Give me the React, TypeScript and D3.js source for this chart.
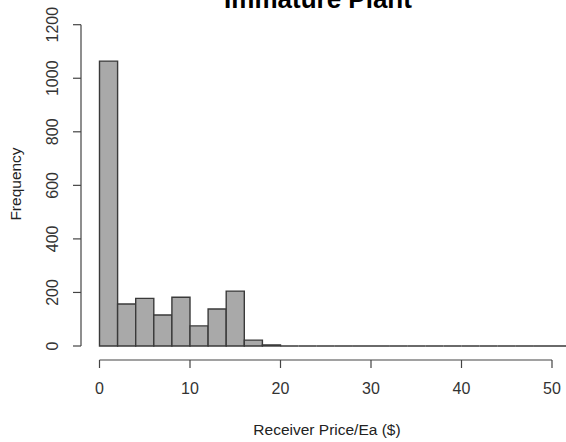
import React from "react";
import * as d3 from "d3";

// Histogram bins (width 2) and their counts
const binStarts: number[] = [0, 2, 4, 6, 8, 10, 12, 14, 16, 18, 20, 22, 24, 26, 28, 30, 32, 34, 36, 38, 40, 42, 44, 46, 48, 50, 52, 54];
const counts: number[] = [1064, 157, 178, 116, 182, 75, 138, 205, 22, 4, 0, 0, 0, 0, 0, 0, 0, 0, 0, 0, 0, 0, 0, 0, 0, 0, 1, 0];
const binWidth = 2;

const xTicks: number[] = [0, 10, 20, 30, 40, 50];
const yTicks: number[] = [0, 200, 400, 600, 800, 1000, 1200];

const title = "Immature Plant";
const xLabel = "Receiver Price/Ea ($)";
const yLabel = "Frequency";

const W = 566;
const H = 442;

export default function App() {
  const x = d3.scaleLinear().domain([0, 50]).range([99.5, 552]);
  const y = d3.scaleLinear().domain([0, 1200]).range([346, 24.7]);

  const axisColor = "#444";
  const font = "'Liberation Sans', Arial, sans-serif";
  const yAxisX = 81;
  const xAxisY = 360;
  const tick = 8;

  // Each bin is drawn as a closed path so empty bins still show their outline
  const barPath = (b: number, c: number) => {
    const p = d3.path();
    p.moveTo(x(b), y(0));
    p.lineTo(x(b), y(c));
    p.lineTo(x(b + binWidth), y(c));
    p.lineTo(x(b + binWidth), y(0));
    p.closePath();
    return p.toString();
  };

  return (
    <svg
      width={W}
      height={H}
      style={{ position: "absolute", left: 0, top: 0, background: "#fff" }}
      fontFamily={font}
    >
      <text x={318} y={8} textAnchor="middle" fontSize={26} fontWeight="bold" fill="#000">
        {title}
      </text>

      {/* bars */}
      <g>
        {binStarts.map((b, i) => (
          <path
            key={i}
            d={barPath(b, counts[i])}
            fill="#a9a9a9"
            stroke="#3a3a3a"
            strokeWidth={1.4}
          />
        ))}
      </g>

      {/* y axis */}
      <g stroke={axisColor} strokeWidth={1.2} fill="none">
        <line x1={yAxisX} x2={yAxisX} y1={y(0)} y2={y(1200)} />
        {yTicks.map((t) => (
          <line key={t} x1={yAxisX - tick} x2={yAxisX} y1={y(t)} y2={y(t)} />
        ))}
      </g>
      {yTicks.map((t) => (
        <text
          key={t}
          transform={`translate(${52},${y(t)}) rotate(-90)`}
          textAnchor="middle"
          dominantBaseline="central"
          fontSize={16}
          fill="#333"
        >
          {t}
        </text>
      ))}

      {/* x axis */}
      <g stroke={axisColor} strokeWidth={1.2} fill="none">
        <line x1={x(0)} x2={x(50)} y1={xAxisY} y2={xAxisY} />
        {xTicks.map((t) => (
          <line key={t} x1={x(t)} x2={x(t)} y1={xAxisY} y2={xAxisY + tick} />
        ))}
      </g>
      {xTicks.map((t) => (
        <text
          key={t}
          x={x(t)}
          y={388}
          textAnchor="middle"
          dominantBaseline="central"
          fontSize={16}
          fill="#333"
        >
          {t}
        </text>
      ))}

      <text x={327} y={429} textAnchor="middle" dominantBaseline="central" fontSize={15.5} fill="#222">
        {xLabel}
      </text>
      <text
        transform={`translate(${15},${184}) rotate(-90)`}
        textAnchor="middle"
        dominantBaseline="central"
        fontSize={15.5}
        fill="#222"
      >
        {yLabel}
      </text>
    </svg>
  );
}
